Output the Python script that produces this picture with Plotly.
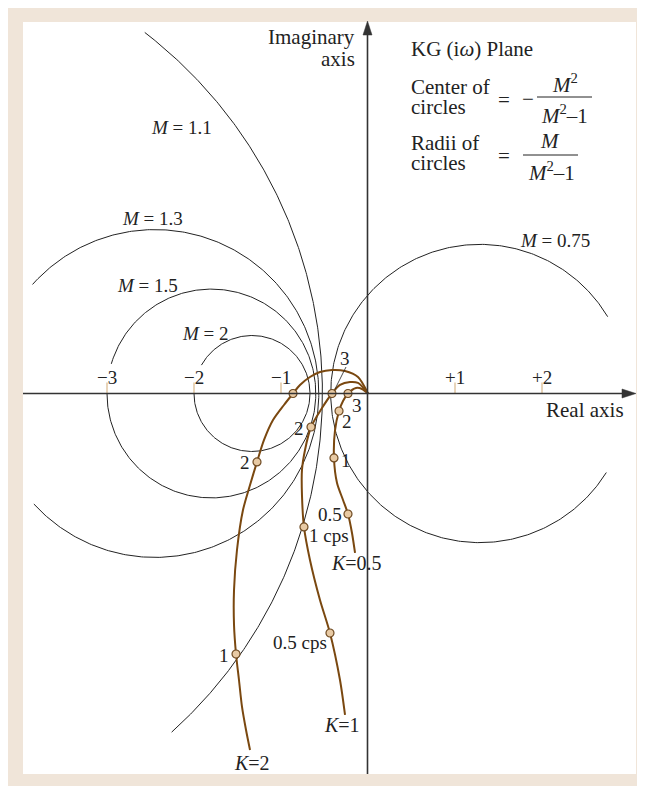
import numpy as np
import plotly.graph_objects as go

# ---------------- data ----------------
M_values = [1.1, 1.3, 1.5, 2.0, 0.75]
M_labels = ["1.1", "1.3", "1.5", "2", "0.75"]

# Nyquist (KG(i w)) loci: real, imaginary
k2_re = [0.0, -0.115, -0.264, -0.414, -0.552, -0.667, -0.782, -0.862, -0.966, -1.092, -1.195, -1.276,
         -1.356, -1.437, -1.506, -1.540, -1.540, -1.517, -1.483, -1.448, -1.402, -1.356]
k2_im = [0.0, 0.19, 0.259, 0.27, 0.247, 0.19, 0.098, 0.0, -0.132, -0.305, -0.534, -0.787,
         -1.052, -1.339, -1.799, -2.259, -2.661, -2.994, -3.293, -3.603, -3.868, -4.098]
k1_re = [0.0, -0.115, -0.207, -0.322, -0.414, -0.529, -0.655, -0.724, -0.759, -0.759, -0.736, -0.667,
         -0.552, -0.437, -0.322, -0.264]
k1_im = [0.0, 0.121, 0.132, 0.098, 0.0, -0.167, -0.385, -0.649, -0.879, -1.167, -1.534, -1.914,
         -2.374, -2.753, -3.293, -3.695]
k05_re = [0.0, -0.069, -0.138, -0.23, -0.287, -0.333, -0.379, -0.391, -0.356, -0.287, -0.23, -0.184, -0.149]
k05_im = [0.0, 0.052, 0.063, 0.0, -0.086, -0.201, -0.420, -0.741, -1.029, -1.224, -1.385, -1.603, -1.833]

# frequency marks (cps) on each locus
k2_mark_re = [-0.862, -1.276, -1.517]
k2_mark_im = [0.0, -0.787, -2.994]
k1_mark_re = [-0.414, -0.655, -0.736, -0.437]
k1_mark_im = [0.0, -0.385, -1.534, -2.753]
k05_mark_re = [-0.23, -0.333, -0.391, -0.23]
k05_mark_im = [0.0, -0.201, -0.741, -1.385]

tick_values = [-3, -2, -1, 1, 2]
tick_labels = ["\u22123", "\u22122", "\u22121", "+1", "+2"]

# ---------------- geometry helpers ----------------
OFF = 8.0                       # page body margin
W, H = 637, 778                 # figure fills the window after the body margin
X0, Y0, U = 368.0, 393.5, 87.0  # origin & unit in screen pixels


def dx(px):
    return (px - X0) / U


def dy(py):
    return (Y0 - py) / U


def pp(px, py):
    return (px - OFF) / W, 1 - (py - OFF) / H


FONT = "Liberation Serif, Times New Roman, serif"
BROWN = "#7a4810"
CIRC = "#222222"
AX = "#333333"
BEIGE = "#f0e5d9"

fig = go.Figure()

# M circles (arcs), angle ranges in degrees
arc_ranges = {1.1: (-48, 52.4), 1.3: (-137.6, 138.3), 1.5: (-180, 163.5), 2.0: (-180, 150.7), 0.75: (31, 328)}
for M in M_values:
    c = -M**2 / (M**2 - 1)
    r = abs(M / (M**2 - 1))
    a0, a1 = arc_ranges[M]
    t = np.radians(np.linspace(a0, a1, 400))
    fig.add_trace(go.Scatter(x=c + r * np.cos(t), y=r * np.sin(t), mode="lines",
                             line=dict(color=CIRC, width=1), hoverinfo="skip", showlegend=False))

# loci
for re_, im_ in [(k2_re, k2_im), (k1_re, k1_im), (k05_re, k05_im)]:
    fig.add_trace(go.Scatter(x=re_, y=im_, mode="lines", line=dict(color=BROWN, width=2, shape="spline", smoothing=0.8),
                             hoverinfo="skip", showlegend=False))
for mre, mim in [(k2_mark_re, k2_mark_im), (k1_mark_re, k1_mark_im), (k05_mark_re, k05_mark_im)]:
    fig.add_trace(go.Scatter(x=mre, y=mim, mode="markers",
                             marker=dict(size=8, color="#e8caa4", line=dict(color="#6e4a22", width=1.2)),
                             hoverinfo="skip", showlegend=False))

shapes = []
# white inner panel
x0, y0 = pp(23, 774)
x1, y1 = pp(636, 22)
shapes.append(dict(type="rect", xref="paper", yref="paper", x0=x0, x1=x1, y0=y0, y1=y1,
                   fillcolor="white", line=dict(width=0), layer="below"))
# tick marks
for tv in tick_values:
    shapes.append(dict(type="line", xref="x", yref="y", x0=tv, x1=tv, y0=0, y1=11 / U,
                       line=dict(color="#e0c6a2", width=1.5)))
# axis lines
shapes.append(dict(type="line", xref="x", yref="y", x0=dx(23), x1=dx(626), y0=0, y1=0, line=dict(color=AX, width=1.6)))
shapes.append(dict(type="line", xref="x", yref="y", x0=dx(367.5), x1=dx(367.5), y0=dy(774), y1=dy(32),
                   line=dict(color=AX, width=1.6)))
# arrowheads
shapes.append(dict(type="path", xref="x", yref="y",
                   path=f"M {dx(636)} 0 L {dx(622)} {4.5 / U} L {dx(622)} {-4.5 / U} Z",
                   fillcolor=AX, line=dict(color=AX, width=0.5)))
shapes.append(dict(type="path", xref="x", yref="y",
                   path=f"M {dx(367.5)} {dy(21)} L {dx(363)} {dy(35)} L {dx(372)} {dy(35)} Z",
                   fillcolor=AX, line=dict(color=AX, width=0.5)))
# leader line for K=1 "3"
shapes.append(dict(type="line", xref="x", yref="y", x0=dx(346), x1=dx(335), y0=dy(367), y1=dy(389),
                   line=dict(color=CIRC, width=0.8)))
# fraction bars
for a, b, yy in [(537, 592, 97), (523, 578, 155)]:
    xa, ya = pp(a, yy)
    xb, _ = pp(b, yy)
    shapes.append(dict(type="line", xref="paper", yref="paper", x0=xa, x1=xb, y0=ya, y1=ya,
                       line=dict(color=CIRC, width=1)))

ann = []


def text(px, py, s, size=21, xanchor="center"):
    x, y = pp(px, py)
    ann.append(dict(x=x, y=y, xref="paper", yref="paper", text=s, showarrow=False, xanchor=xanchor, yanchor="middle",
                    font=dict(family=FONT, size=size, color="#222")))


# tick labels
for tv, tl in zip(tick_values, tick_labels):
    text(X0 + tv * U, 378, tl, size=19)

text(357, 37, "Imaginary", xanchor="right")
text(357, 59, "axis", xanchor="right")
text(585, 410, "Real axis")
text(409, 49, "KG (i<i>\u03c9</i>) Plane", xanchor="left")
text(409, 87, "Center of", xanchor="left")
text(409, 107, "circles", xanchor="left")
text(504, 100, "=")
text(528, 99, "\u2212")
text(565, 84, "<i>M</i><sup>2</sup>")
text(564, 114, "<i>M</i><sup>2</sup>\u20131")
text(409, 143, "Radii of", xanchor="left")
text(409, 163, "circles", xanchor="left")
text(504, 156, "=")
text(550, 141, "<i>M</i>")
text(551, 172, "<i>M</i><sup>2</sup>\u20131")

# M labels
m_label_pos = {"1.1": (181, 128), "1.3": (152, 218), "1.5": (147, 285), "2": (205, 333), "0.75": (555, 240)}
for ml in M_labels:
    px_, py_ = m_label_pos[ml]
    text(px_, py_, "<i>M</i> = " + ml, size=19)

# locus labels
for px_, py_, s, sz in [(245, 463, "2", 19), (224, 655, "1", 19), (252, 763, "<i>K</i>=2", 20),
                        (345, 358, "3", 19), (299, 429, "2", 19), (329, 535, "1 cps", 19), (300, 642, "0.5 cps", 19),
                        (342, 725, "<i>K</i>=1", 20),
                        (357, 405, "3", 19), (347, 421, "2", 19), (346, 460, "1", 19), (330, 514, "0.5", 19),
                        (356, 563, "<i>K</i>=0.5", 20)]:
    text(px_, py_, s, size=sz)

fig.update_layout(
    width=W, height=H, margin=dict(l=0, r=0, t=0, b=0),
    paper_bgcolor=BEIGE, plot_bgcolor="rgba(0,0,0,0)",
    xaxis=dict(range=[dx(OFF), dx(OFF + W)], visible=False, fixedrange=True),
    yaxis=dict(range=[dy(OFF + H), dy(OFF)], visible=False, fixedrange=True),
    shapes=shapes, annotations=ann, showlegend=False,
)
fig.write_html("out.html")
